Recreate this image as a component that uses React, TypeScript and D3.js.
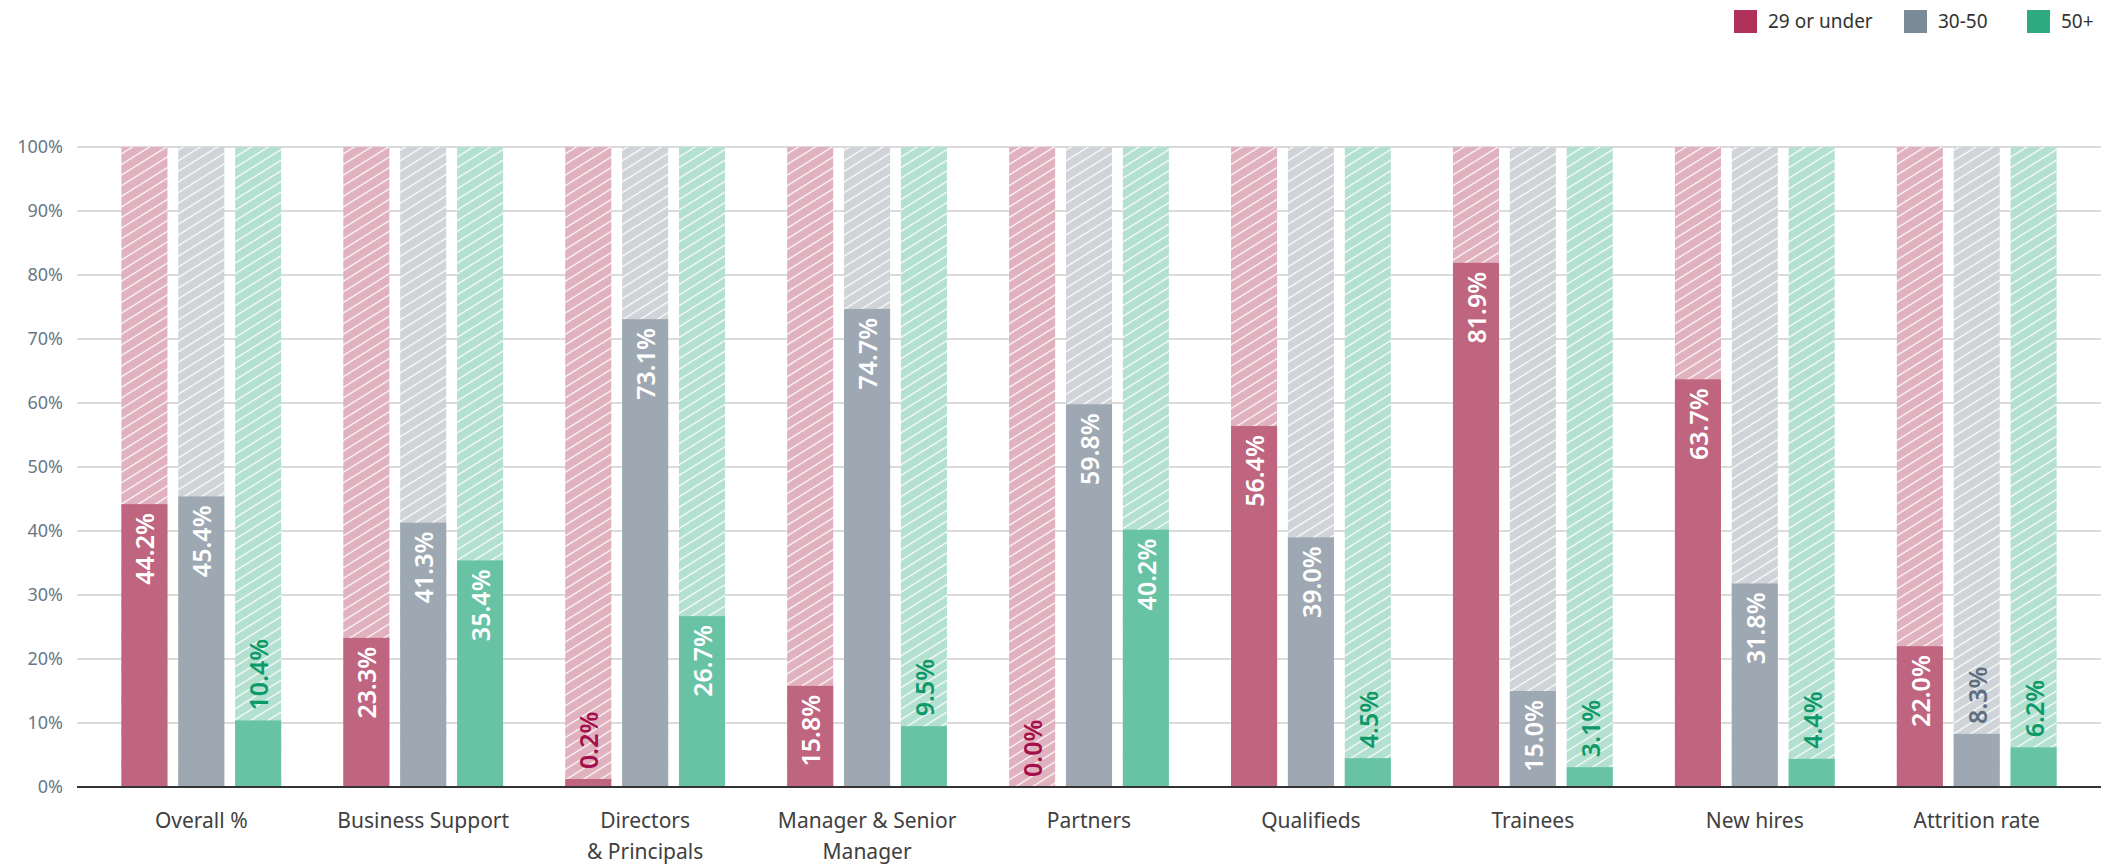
import React from "react";
import * as d3 from "d3";

const categories = [
  "Overall %",
  "Business Support",
  "Directors\n& Principals",
  "Manager & Senior\nManager",
  "Partners",
  "Qualifieds",
  "Trainees",
  "New hires",
  "Attrition rate",
];
const seriesNames = ["29 or under", "30-50", "50+"];
const under29 = [44.2, 23.3, 0.2, 15.8, 0.0, 56.4, 81.9, 63.7, 22.0];
const age30to50 = [45.4, 41.3, 73.1, 74.7, 59.8, 39.0, 15.0, 31.8, 8.3];
const over50 = [10.4, 35.4, 26.7, 9.5, 40.2, 4.5, 3.1, 4.4, 6.2];
const yTicks = [0, 10, 20, 30, 40, 50, 60, 70, 80, 90, 100];

const seriesValues = [under29, age30to50, over50];
const legendColors = ["#b0325a", "#7a8a96", "#2eaa80"];
const fillColors = ["#c06580", "#9ea8b2", "#68c3a5"];
const hatchBg = ["#e0b1bf", "#d0d4d8", "#b3e0d1"];
const outsideText = ["#a3104a", "#5e6e80", "#0e9a68"];

const W = 2123;
const H = 867;
const FONT = "'Noto Sans', 'Open Sans', sans-serif";

export default function App() {
  const x0 = d3
    .scaleBand<number>()
    .domain(d3.range(categories.length))
    .range([77, 2101])
    .paddingInner(0.28)
    .paddingOuter(0.2);
  const x1 = d3
    .scaleBand<number>()
    .domain([0, 1, 2])
    .range([0, x0.bandwidth()])
    .paddingInner(0.19)
    .paddingOuter(0);
  const y = d3.scaleLinear().domain([0, 100]).range([787, 147]);

  const bw = x1.bandwidth();
  const T = 9;

  return (
    <svg
      width={W}
      height={H}
      style={{ position: "absolute", left: 0, top: 0, background: "#fff" }}
      fontFamily={FONT}
    >
      <defs>
        {hatchBg.map((c, i) => (
          <pattern
            key={i}
            id={`hatch${i}`}
            patternUnits="userSpaceOnUse"
            width={T}
            height={T}
            patternTransform="rotate(-32)"
          >
            <rect width={T} height={T} fill={c} />
            <line x1={0} x2={T} y1={T / 2} y2={T / 2} stroke="#fff" strokeWidth={1.2} />
          </pattern>
        ))}
      </defs>

      {/* legend */}
      {seriesNames.map((name, i) => {
        const xs = [1734, 1904, 2027][i];
        return (
          <g key={name}>
            <rect x={xs} y={10} width={23} height={23} fill={legendColors[i]} />
            <text x={xs + 34} y={28} fontSize={19} fill="#333">
              {name}
            </text>
          </g>
        );
      })}

      {/* gridlines + y ticks */}
      {yTicks.map((t) => (
        <g key={t}>
          {t !== 0 && (
            <line x1={77} x2={2101} y1={y(t)} y2={y(t)} stroke="#cfcfcf" strokeWidth={1.5} />
          )}
          <text
            x={63}
            y={y(t)}
            dy="0.35em"
            textAnchor="end"
            fontSize={18}
            fill="#687888"
          >
            {`${t}%`}
          </text>
        </g>
      ))}

      {/* bars */}
      {categories.map((cat, ci) => (
        <g key={cat} transform={`translate(${x0(ci)},0)`}>
          {seriesValues.map((vals, si) => {
            const v = vals[ci];
            const bx = x1(si)!;
            let top = y(v);
            if (v > 0 && y(0) - top < 8) top = y(0) - 8;
            const inside = v >= 12;
            const cx = bx + bw / 2;
            const ly = inside ? top + 9 : top - 10;
            return (
              <g key={si}>
                <rect x={bx} y={y(100)} width={bw} height={y(0) - y(100)} fill={`url(#hatch${si})`} />
                {v > 0 && (
                  <rect x={bx} y={top} width={bw} height={y(0) - top} fill={fillColors[si]} />
                )}
                <text
                  transform={`translate(${cx},${ly}) rotate(-90)`}
                  textAnchor={inside ? "end" : "start"}
                  dominantBaseline="central"
                  fontSize={25}
                  fontWeight={600}
                  fill={inside ? "#fff" : outsideText[si]}
                >
                  {`${v.toFixed(1)}%`}
                </text>
              </g>
            );
          })}
          {cat.split("\n").map((line, li) => (
            <text
              key={li}
              x={x0.bandwidth() / 2}
              y={828 + li * 31}
              textAnchor="middle"
              fontSize={21}
              fill="#404040"
            >
              {line}
            </text>
          ))}
        </g>
      ))}

      {/* baseline */}
      <line x1={77} x2={2101} y1={y(0)} y2={y(0)} stroke="#333" strokeWidth={2} />
    </svg>
  );
}
